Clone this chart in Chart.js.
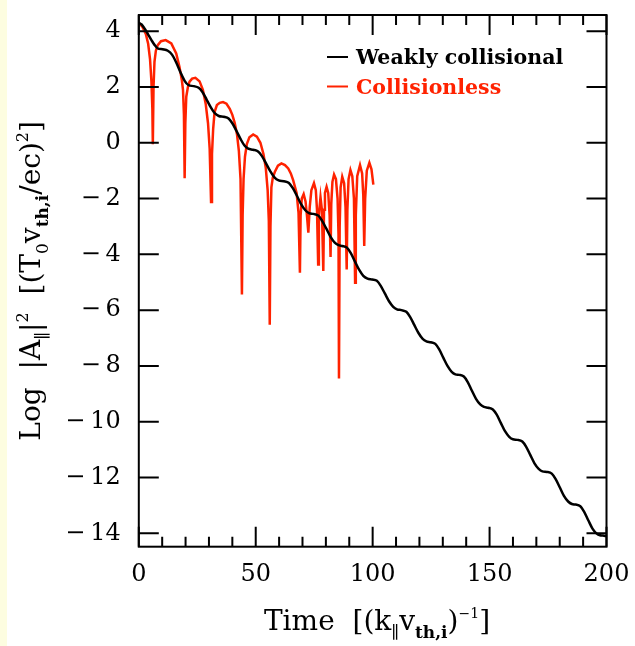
<!DOCTYPE html>
<html>
<head>
<meta charset="utf-8">
<script src="https://cdn.jsdelivr.net/npm/chart.js@4"></script>
<style>
  html, body { margin: 0; padding: 0; background: #fff; }
  canvas { display: block; }
</style>
</head>
<body>
<canvas id="decayChart" width="635" height="646"></canvas>
<script>
// Weakly collisional run: time and Log |A|^2
const weakTime = [
  0, 1.2, 2.6, 4.0, 5.4, 6.8, 8.0, 10.2, 12.4, 14.2, 16.0, 17.8, 19.6, 21.2, 23.5,
  25.6, 27.2, 29.0, 30.8, 32.6, 34.2, 36.3, 38.4, 40.0, 41.8, 43.6, 45.2, 46.8, 48.9,
  51.0, 52.6, 54.4, 56.2, 58.0, 59.8, 62.0, 64.2, 65.8, 67.6, 69.4, 71.2, 72.8, 74.7,
  76.8, 78.4, 80.2, 82.0, 83.8, 85.4, 87.0, 89.0, 90.6, 92.4, 94.2, 96.0, 97.8, 99.8,
  101.8, 103.4, 105.2, 107.0, 108.8, 110.4, 112.3, 114.4, 116.0, 117.8, 119.6, 121.4, 123.0, 124.8,
  126.8, 128.4, 130.2, 132.0, 133.8, 135.4, 137.0, 139.0, 140.6, 142.4, 144.2, 146.0, 147.6, 149.4,
  151.4, 153.0, 154.8, 156.6, 158.4, 160.0, 161.9, 164.0, 165.6, 167.4, 169.2, 171.0, 172.6, 174.5,
  176.6, 178.2, 180.0, 181.8, 183.6, 185.2, 186.8, 188.8, 190.4, 192.2, 194.0, 195.8, 197.2, 198.5, 200.0
];
const weakLog = [
  4.30, 4.24, 4.08, 3.88, 3.68, 3.50, 3.39, 3.35, 3.30, 3.16, 2.88, 2.53, 2.22, 2.07, 2.03,
  1.97, 1.82, 1.55, 1.27, 1.05, 0.96, 0.93, 0.87, 0.70, 0.42, 0.12, -0.10, -0.21, -0.25,
  -0.31, -0.47, -0.74, -1.02, -1.24, -1.35, -1.38, -1.44, -1.62, -1.90, -2.20, -2.42, -2.52, -2.55,
  -2.61, -2.80, -3.08, -3.37, -3.58, -3.67, -3.70, -3.76, -3.95, -4.25, -4.55, -4.77, -4.87, -4.90,
  -4.95, -5.12, -5.40, -5.68, -5.88, -5.97, -6.00, -6.06, -6.24, -6.53, -6.82, -7.03, -7.12, -7.15,
  -7.21, -7.40, -7.70, -8.00, -8.21, -8.30, -8.32, -8.38, -8.57, -8.88, -9.18, -9.38, -9.47, -9.50,
  -9.56, -9.74, -10.04, -10.34, -10.54, -10.63, -10.65, -10.71, -10.89, -11.19, -11.49, -11.69, -11.78, -11.80,
  -11.86, -12.05, -12.35, -12.66, -12.86, -12.95, -12.97, -13.03, -13.22, -13.53, -13.83, -14.01, -14.07, -14.08, -14.10
];

// Collisionless run
const freeTime = [
  0, 1.5, 3.0, 4.0, 4.8, 5.4, 5.8, 6.0, 6.3, 6.7, 7.3, 8.1, 9.5, 11.5, 13.9, 16.0, 17.4, 18.4, 18.9, 19.3, 19.6,
  19.9, 20.3, 21.0, 21.7, 22.8, 24.2, 26.0, 27.4, 28.6, 29.6, 30.3, 30.9,
  31.3, 31.8, 32.4, 33.4, 34.6, 36.0, 37.5, 38.9, 40.0, 41.0, 42.0, 42.8, 43.5, 44.1,
  44.4, 44.8, 45.4, 46.2, 47.3, 48.9, 50.5, 52.0, 53.3, 54.3, 55.1, 55.6, 56.0,
  56.3, 56.7, 57.3, 58.2, 59.5, 61.0, 62.5, 63.9, 65.0, 66.0, 67.5, 68.3, 68.9,
  69.2, 69.7, 70.5, 71.3, 71.9, 72.5, 73.1, 73.8, 74.9, 75.7, 76.2, 76.7,
  77.0, 77.7, 78.3, 78.9, 79.2, 79.6, 80.3, 81.0, 81.6, 82.0,
  82.3, 82.8, 83.5, 84.3, 85.0, 85.4, 85.6, 85.9, 86.3, 87.0, 87.8, 88.4, 88.9,
  89.2, 89.7, 90.5, 91.3, 92.0, 92.5, 92.8, 93.4, 94.6, 95.5, 96.0, 96.4,
  96.8, 97.5, 98.6, 99.5, 100.3
];
const freeLog = [
  4.30, 4.16, 3.90, 3.55, 3.00, 2.20, 1.20, -0.05, 2.00, 2.90, 3.30, 3.50, 3.64, 3.68, 3.56, 3.20, 2.72, 2.25, 1.90, 1.00, -1.27,
  0.70, 1.65, 2.00, 2.19, 2.30, 2.33, 2.20, 1.90, 1.40, 0.70, -0.20, -2.12,
  -0.40, 0.50, 1.10, 1.35, 1.43, 1.46, 1.40, 1.22, 1.00, 0.72, 0.30, -0.30, -1.30, -5.44,
  -2.60, -1.30, -0.50, -0.05, 0.20, 0.30, 0.22, 0.00, -0.40, -0.90, -1.70, -2.80, -6.52,
  -3.00, -1.60, -1.25, -1.04, -0.82, -0.74, -0.80, -0.92, -1.10, -1.34, -1.81, -2.50, -4.66,
  -2.60, -2.00, -1.84, -2.10, -2.60, -3.22, -2.30, -1.70, -1.45, -1.70, -2.40, -4.36,
  -2.60, -1.95, -2.40, -4.60, -2.40, -1.80, -1.58, -1.80, -2.60, -4.09,
  -2.20, -1.40, -1.14, -1.30, -2.00, -3.30, -8.45, -3.00, -1.60, -1.22, -1.45, -2.30, -4.54,
  -2.40, -1.30, -0.98, -1.20, -2.00, -5.02, -2.60, -1.20, -0.80, -1.10, -1.90, -3.70,
  -2.00, -1.00, -0.72, -0.95, -1.50
];

const seriesNames = ["Weakly collisional", "Collisionless"];
const xTicks = [0, 50, 100, 150, 200];
const xMinorTicks = [10, 20, 30, 40, 60, 70, 80, 90, 110, 120, 130, 140, 160, 170, 180, 190];
const yTicks = [4, 2, 0, -2, -4, -6, -8, -10, -12, -14];
const yTickLabels = ["4", "2", "0", "\u2212\u20092", "\u2212\u20094", "\u2212\u20096", "\u2212\u20098",
  "\u2212\u200910", "\u2212\u200912", "\u2212\u200914"];

const SERIF = "'DejaVu Serif', 'Liberation Serif', serif";

function toPoints(xs, ys) {
  return xs.map((t, i) => ({ x: t, y: ys[i] }));
}

// draws a line of text made of runs (sub/superscripts), centred on cx
function drawRich(ctx, runs, cx, baseY) {
  let total = 0;
  runs.forEach(r => {
    ctx.font = (r.bold ? "bold " : "") + r.size + "px " + SERIF;
    r.w = ctx.measureText(r.text).width;
    total += r.w;
  });
  let x = cx - total / 2;
  runs.forEach(r => {
    ctx.font = (r.bold ? "bold " : "") + r.size + "px " + SERIF;
    ctx.fillText(r.text, x, baseY + (r.dy || 0));
    x += r.w;
  });
}

// keep the plot box where the reference has it (no label overhang padding)
function noOverhang(scale) {
  scale.paddingTop = 0;
  scale.paddingBottom = 0;
  scale.paddingLeft = 0;
  scale.paddingRight = 0;
}

const decorPlugin = {
  id: "decor",
  beforeDraw(chart) {
    const ctx = chart.ctx;
    ctx.save();
    ctx.fillStyle = "#fff";
    ctx.fillRect(0, 0, chart.width, chart.height);
    ctx.fillStyle = "#fdfde0";
    ctx.fillRect(0, 0, 7, chart.height);
    ctx.restore();
  },
  afterDraw(chart) {
    const ctx = chart.ctx;
    const a = chart.chartArea;
    const xs = chart.scales.x;
    const ys = chart.scales.y;
    ctx.save();
    ctx.strokeStyle = "#000";
    ctx.lineWidth = 2;
    ctx.strokeRect(a.left, a.top, a.right - a.left, a.bottom - a.top);

    // inward tick marks on all four sides
    ctx.beginPath();
    xTicks.concat(xMinorTicks).forEach(t => {
      const px = xs.getPixelForValue(t);
      const len = xTicks.includes(t) ? 20 : 10;
      ctx.moveTo(px, a.bottom); ctx.lineTo(px, a.bottom - len);
      ctx.moveTo(px, a.top); ctx.lineTo(px, a.top + len);
    });
    yTicks.forEach(v => {
      const py = ys.getPixelForValue(v);
      ctx.moveTo(a.left, py); ctx.lineTo(a.left + 20, py);
      ctx.moveTo(a.right, py); ctx.lineTo(a.right - 20, py);
    });
    ctx.stroke();

    // legend
    chart.data.datasets.forEach((ds, i) => {
      const ly = 57 + i * 29.5;
      ctx.strokeStyle = ds.borderColor;
      ctx.lineWidth = 2;
      ctx.beginPath();
      ctx.moveTo(327, ly);
      ctx.lineTo(348, ly);
      ctx.stroke();
      ctx.fillStyle = ds.borderColor;
      ctx.font = "bold 20.5px " + SERIF;
      ctx.textBaseline = "alphabetic";
      ctx.textAlign = "left";
      ctx.fillText(ds.label, 356, ly + 7);
    });

    // axis titles
    ctx.fillStyle = "#000";
    ctx.textAlign = "left";
    ctx.textBaseline = "alphabetic";
    drawRich(ctx, [
      { text: "Time  [(k", size: 28 },
      { text: "\u2225", size: 17, dy: 8 },
      { text: "v", size: 28 },
      { text: "th,i", size: 17, dy: 8, bold: true },
      { text: ")", size: 28 },
      { text: "\u22121", size: 14, dy: -12 },
      { text: "]", size: 28 }
    ], 377, 630);

    ctx.translate(40, (a.top + a.bottom) / 2);
    ctx.rotate(-Math.PI / 2);
    drawRich(ctx, [
      { text: "Log  |A", size: 28 },
      { text: "\u2225", size: 17, dy: 8 },
      { text: "|", size: 28 },
      { text: "2", size: 16, dy: -12 },
      { text: "  [(T", size: 28 },
      { text: "0", size: 17, dy: 8 },
      { text: "v", size: 28 },
      { text: "th,i", size: 17, dy: 8, bold: true },
      { text: "/ec)", size: 28 },
      { text: "2", size: 16, dy: -12 },
      { text: "]", size: 28 }
    ], 0, 0);
    ctx.restore();
  }
};

new Chart(document.getElementById("decayChart").getContext("2d"), {
  type: "line",
  data: {
    datasets: [
      {
        label: seriesNames[0],
        data: toPoints(weakTime, weakLog),
        borderColor: "#000000",
        borderWidth: 2.5,
        pointRadius: 0,
        cubicInterpolationMode: "monotone",
        fill: false
      },
      {
        label: seriesNames[1],
        data: toPoints(freeTime, freeLog),
        borderColor: "#ff2200",
        borderWidth: 2.5,
        pointRadius: 0,
        tension: 0,
        fill: false
      }
    ]
  },
  options: {
    responsive: false,
    animation: false,
    devicePixelRatio: 1,
    layout: {
      padding: { left: 0, right: 28.5, top: 15, bottom: 0 }
    },
    plugins: {
      legend: { display: false },
      tooltip: { enabled: false }
    },
    scales: {
      x: {
        type: "linear",
        min: 0,
        max: 200,
        grid: { display: false, drawTicks: false },
        border: { display: false },
        afterBuildTicks: scale => { scale.ticks = xTicks.map(v => ({ value: v })); },
        afterFit: scale => { scale.height = 99.3; noOverhang(scale); },
        ticks: {
          color: "#000",
          padding: 14,
          maxRotation: 0,
          font: { family: SERIF, size: 24 }
        }
      },
      y: {
        type: "linear",
        min: -14.48,
        max: 4.58,
        grid: { display: false, drawTicks: false },
        border: { display: false },
        afterBuildTicks: scale => { scale.ticks = yTicks.map(v => ({ value: v })); },
        afterFit: scale => { scale.width = 138.8; noOverhang(scale); },
        ticks: {
          color: "#000",
          padding: 18,
          font: { family: SERIF, size: 24 },
          callback: value => yTickLabels[yTicks.indexOf(value)]
        }
      }
    }
  },
  plugins: [decorPlugin]
});
</script>
</body>
</html>
